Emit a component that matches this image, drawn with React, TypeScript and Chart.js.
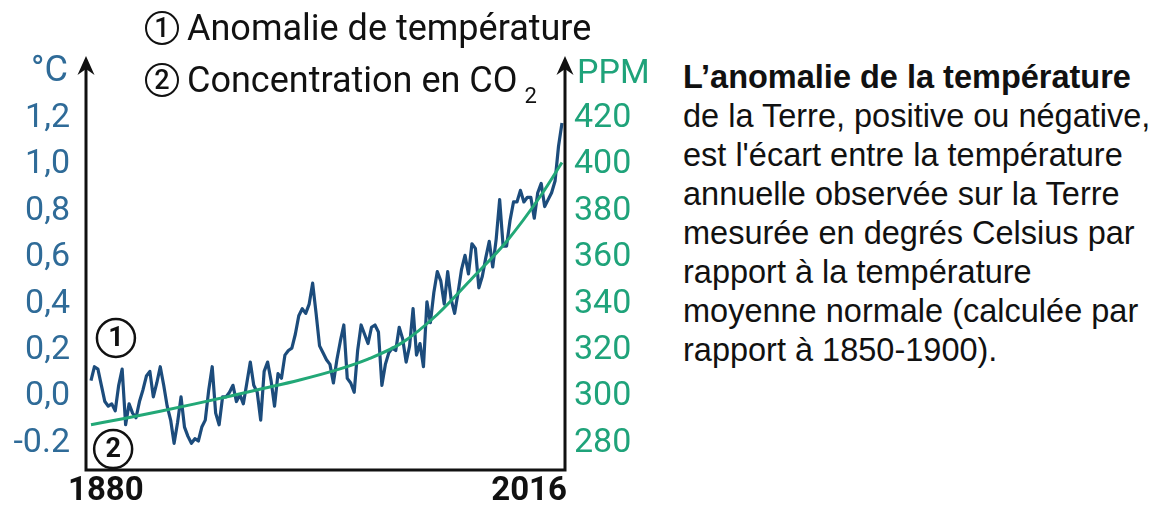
import React, { useEffect, useRef } from "react";
import { Chart, registerables } from "chart.js";

Chart.register(...registerables);

// ---------- DATA ----------
const years = [
  1880, 1881, 1882, 1883, 1884, 1885, 1886, 1887, 1888, 1889,
  1890, 1891, 1892, 1893, 1894, 1895, 1896, 1897, 1898, 1899,
  1900, 1901, 1902, 1903, 1904, 1905, 1906, 1907, 1908, 1909,
  1910, 1911, 1912, 1913, 1914, 1915, 1916, 1917, 1918, 1919,
  1920, 1921, 1922, 1923, 1924, 1925, 1926, 1927, 1928, 1929,
  1930, 1931, 1932, 1933, 1934, 1935, 1936, 1937, 1938, 1939,
  1940, 1941, 1942, 1943, 1944, 1945, 1946, 1947, 1948, 1949,
  1950, 1951, 1952, 1953, 1954, 1955, 1956, 1957, 1958, 1959,
  1960, 1961, 1962, 1963, 1964, 1965, 1966, 1967, 1968, 1969,
  1970, 1971, 1972, 1973, 1974, 1975, 1976, 1977, 1978, 1979,
  1980, 1981, 1982, 1983, 1984, 1985, 1986, 1987, 1988, 1989,
  1990, 1991, 1992, 1993, 1994, 1995, 1996, 1997, 1998, 1999,
  2000, 2001, 2002, 2003, 2004, 2005, 2006, 2007, 2008, 2009,
  2010, 2011, 2012, 2013, 2014, 2015, 2016,
];

// (1) Anomalie de température (°C)
const temperatureAnomaly = [
  0.07, 0.13, 0.12, 0.05, -0.02, -0.04, -0.03, -0.06, 0.05, 0.12,
  -0.12, -0.03, -0.07, -0.09, -0.02, 0.03, 0.09, 0.11, 0.0, 0.06,
  0.13, 0.05, -0.04, -0.1, -0.2, -0.11, 0.0, -0.13, -0.17, -0.2,
  -0.18, -0.19, -0.13, -0.1, 0.03, 0.13, -0.07, -0.12, 0.0, 0.0,
  0.02, 0.05, -0.02, 0.01, -0.03, 0.06, 0.15, 0.05, 0.02, -0.1,
  0.11, 0.15, 0.07, -0.04, 0.1, 0.08, 0.18, 0.2, 0.21, 0.27,
  0.35, 0.38, 0.36, 0.4, 0.49, 0.36, 0.22, 0.19, 0.16, 0.14,
  0.06, 0.16, 0.24, 0.31, 0.08, 0.06, 0.02, 0.2, 0.31, 0.27,
  0.23, 0.3, 0.31, 0.28, 0.05, 0.14, 0.19, 0.21, 0.2, 0.3,
  0.25, 0.15, 0.22, 0.38, 0.18, 0.23, 0.13, 0.41, 0.32, 0.45,
  0.54, 0.5, 0.4, 0.54, 0.42, 0.36, 0.45, 0.55, 0.61, 0.53,
  0.66, 0.64, 0.47, 0.52, 0.6, 0.67, 0.56, 0.68, 0.85, 0.65,
  0.65, 0.76, 0.84, 0.84, 0.89, 0.84, 0.86, 0.86, 0.77, 0.88,
  0.92, 0.82, 0.85, 0.88, 0.93, 1.08, 1.18,
];

// (2) Concentration en CO2 (PPM)
const co2Years = [1880, 1890, 1900, 1910, 1920, 1930, 1940, 1950, 1960, 1970, 1980, 1990, 2000, 2010, 2016];
const co2Ppm = [288, 290.8, 293.8, 297, 300.3, 303.7, 307.2, 311.2, 316.3, 323.5, 335.5, 351, 367, 387, 401];

const leftTickValues = [-0.2, 0, 0.2, 0.4, 0.6, 0.8, 1.0, 1.2];
const leftTickLabels = ["-0.2", "0,0", "0,2", "0,4", "0,6", "0,8", "1,0", "1,2"];
const rightTickValues = [280, 300, 320, 340, 360, 380, 400, 420];
const rightTickLabels = ["280", "300", "320", "340", "360", "380", "400", "420"];
const xTickYears = [1880, 2016];
const xTickLabels = ["1880", "2016"];

const leftUnit = "°C";
const rightUnit = "PPM";
const legendLine1 = "Anomalie de température";
const legendLine2 = "Concentration en CO";

const paragraphBold = "L’anomalie de la température";
const paragraphLines = [
  "de la Terre, positive ou négative,",
  "est l'écart entre la température",
  "annuelle observée sur la Terre",
  "mesurée en degrés Celsius par",
  "rapport à la température",
  "moyenne normale (calculée par",
  "rapport à 1850-1900).",
];

// circled markers placed in data coordinates
const markerOne = { label: "1", year: 1887.2, value: 0.254 };
const markerTwo = { label: "2", year: 1886.4, value: -0.225 };

// ---------- STYLES ----------
const BLUE_TICK = "#2f6b98";
const GREEN_TICK = "#1fa37a";
const BLUE_LINE = "#1c4c7c";
const GREEN_LINE = "#22a877";
const INK = "#111111";

const decorPlugin = {
  id: "decor",
  afterDatasetsDraw(chart: any) {
    const { ctx, chartArea: a, scales } = chart;
    const xs = scales.x;
    const ys = scales.y;
    ctx.save();
    ctx.strokeStyle = INK;
    ctx.fillStyle = INK;
    ctx.lineWidth = 3;
    ctx.beginPath();
    ctx.moveTo(a.left - 1.5, a.bottom);
    ctx.lineTo(a.right + 1.5, a.bottom);
    ctx.moveTo(a.left, a.bottom + 1.5);
    ctx.lineTo(a.left, a.top + 10);
    ctx.moveTo(a.right, a.bottom + 1.5);
    ctx.lineTo(a.right, a.top + 10);
    ctx.stroke();
    const arrow = (cx: number) => {
      ctx.beginPath();
      ctx.moveTo(cx, a.top);
      ctx.lineTo(cx - 8.5, a.top + 19);
      ctx.lineTo(cx, a.top + 13);
      ctx.lineTo(cx + 8.5, a.top + 19);
      ctx.closePath();
      ctx.fill();
    };
    arrow(a.left);
    arrow(a.right);

    // unit labels
    ctx.font = "36px Roboto";
    ctx.textBaseline = "middle";
    ctx.fillStyle = BLUE_TICK;
    ctx.textAlign = "right";
    ctx.fillText(leftUnit, a.left - 18, a.top + 16);
    ctx.fillStyle = GREEN_TICK;
    ctx.font = "34px Roboto";
    ctx.textAlign = "left";
    ctx.fillText(rightUnit, a.right + 12, a.top + 18);

    // x tick labels
    ctx.fillStyle = INK;
    ctx.font = "bold 33px Roboto";
    ctx.textBaseline = "middle";
    ctx.textAlign = "left";
    ctx.fillText(xTickLabels[0], xs.getPixelForValue(xTickYears[0]) - 23, a.bottom + 22);
    ctx.textAlign = "right";
    ctx.fillText(xTickLabels[1], xs.getPixelForValue(xTickYears[1]) + 5, a.bottom + 22);

    // circled markers
    [markerOne, markerTwo].forEach((m) => {
      const cx = xs.getPixelForValue(m.year);
      const cy = ys.getPixelForValue(m.value);
      ctx.beginPath();
      ctx.lineWidth = 2.5;
      ctx.strokeStyle = INK;
      ctx.arc(cx, cy, 19, 0, Math.PI * 2);
      ctx.stroke();
      ctx.fillStyle = INK;
      ctx.font = "bold 27px Roboto";
      ctx.textAlign = "center";
      ctx.textBaseline = "middle";
      ctx.fillText(m.label, cx, cy + 1);
    });
    ctx.restore();
  },
};

const circleStyle = (left: number, top: number): React.CSSProperties => ({
  position: "absolute",
  left,
  top,
  width: 34,
  height: 34,
  boxSizing: "border-box",
  border: "2px solid #111",
  borderRadius: "50%",
  display: "flex",
  alignItems: "center",
  justifyContent: "center",
  font: "500 27px Roboto",
  color: INK,
  lineHeight: "1",
});

export default function App() {
  const ref = useRef<HTMLCanvasElement>(null);

  useEffect(() => {
    if (!ref.current) return;
    const chart = new Chart(ref.current, {
      type: "line",
      data: {
        datasets: [
          {
            label: "CO2",
            data: co2Years.map((yr, i) => ({ x: yr, y: co2Ppm[i] })),
            yAxisID: "y2",
            borderColor: GREEN_LINE,
            borderWidth: 3,
            pointRadius: 0,
            cubicInterpolationMode: "monotone",
            fill: false,
          },
          {
            label: "Anomalie",
            data: years.map((yr, i) => ({ x: yr, y: temperatureAnomaly[i] })),
            yAxisID: "y",
            borderColor: BLUE_LINE,
            borderWidth: 3.2,
            borderJoinStyle: "round",
            pointRadius: 0,
            tension: 0,
            fill: false,
          },
        ],
      },
      options: {
        responsive: false,
        animation: false,
        devicePixelRatio: 1,
        layout: { padding: { left: 0, right: 0, top: 56, bottom: 42 } },
        plugins: {
          legend: { display: false },
          tooltip: { enabled: false },
          title: { display: false },
        },
        scales: {
          x: { type: "linear", display: false, min: 1878.56, max: 2016.87 },
          y: {
            position: "left",
            min: -0.315,
            max: 1.469,
            grid: { display: false, drawTicks: false },
            border: { display: false },
            afterBuildTicks: (s: any) => {
              s.ticks = leftTickValues.map((v) => ({ value: v }));
            },
            afterFit: (s: any) => {
              s.width = 86;
            },
            ticks: {
              autoSkip: false,
              callback: (_v: any, i: number) => leftTickLabels[i],
              color: BLUE_TICK,
              font: { family: "Roboto", size: 34 },
              padding: 16,
            },
          },
          y2: {
            position: "right",
            min: 268.5,
            max: 446.9,
            grid: { display: false, drawTicks: false },
            border: { display: false },
            afterBuildTicks: (s: any) => {
              s.ticks = rightTickValues.map((v) => ({ value: v }));
            },
            afterFit: (s: any) => {
              s.width = 115;
            },
            ticks: {
              autoSkip: false,
              callback: (_v: any, i: number) => rightTickLabels[i],
              color: GREEN_TICK,
              font: { family: "Roboto", size: 34 },
              padding: 9,
            },
          },
        },
      } as any,
      plugins: [decorPlugin],
    });
    return () => chart.destroy();
  }, []);

  return (
    <div
      style={{
        position: "absolute",
        left: 0,
        top: 0,
        width: 1158,
        height: 512,
        background: "#fff",
        overflow: "hidden",
      }}
    >
      <canvas ref={ref} width={680} height={512} style={{ position: "absolute", left: 0, top: 0 }} />
      <div style={circleStyle(145, 11)}>1</div>
      <div
        style={{
          position: "absolute",
          left: 187,
          top: 7,
          font: "36px Roboto",
          lineHeight: "42px",
          color: INK,
          whiteSpace: "nowrap",
        }}
      >
        {legendLine1}
      </div>
      <div style={circleStyle(145, 63)}>2</div>
      <div
        style={{
          position: "absolute",
          left: 187,
          top: 59,
          font: "36px Roboto",
          lineHeight: "42px",
          color: INK,
          whiteSpace: "nowrap",
        }}
      >
        {legendLine2}
        <span style={{ fontSize: 22, position: "relative", top: 11, marginLeft: 7 }}>2</span>
      </div>
      <div
        style={{
          position: "absolute",
          left: 683,
          top: 58,
          font: "32.5px 'Liberation Sans', Arial, sans-serif",
          lineHeight: "39px",
          color: INK,
          whiteSpace: "nowrap",
        }}
      >
        <div style={{ fontWeight: "bold" }}>{paragraphBold}</div>
        {paragraphLines.map((l, i) => (
          <div key={i}>{l}</div>
        ))}
      </div>
    </div>
  );
}
